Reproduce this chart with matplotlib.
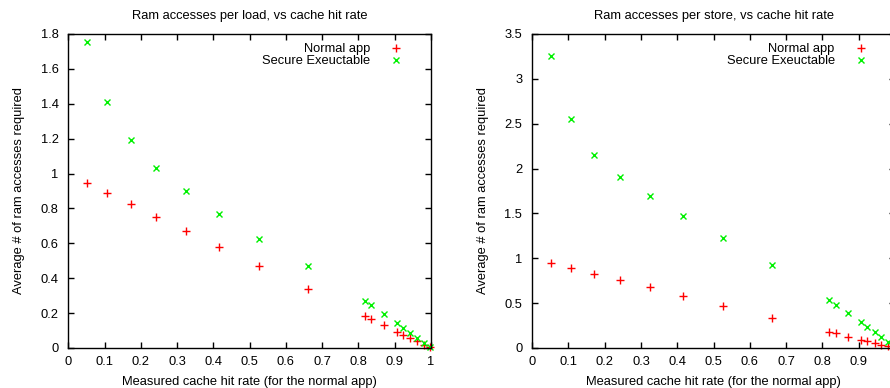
"""
plot.py — RAM accesses per load / per store against measured cache hit rate.

Two gnuplot-style scatter panels; the right panel runs past the figure edge
as in the reference picture.
"""

import matplotlib.pyplot as plt

# ---------------------------------------------------------------------------
# Data
# ---------------------------------------------------------------------------

hit_rate = [0.052, 0.108, 0.172, 0.243, 0.325, 0.417, 0.527, 0.660, 0.818,
            0.836, 0.870, 0.907, 0.924, 0.944, 0.961, 0.980, 0.998]

load_normal = [0.948, 0.891, 0.827, 0.753, 0.673, 0.581, 0.472, 0.338, 0.182,
               0.164, 0.130, 0.090, 0.075, 0.057, 0.038, 0.019, 0.004]
load_secure = [1.756, 1.412, 1.194, 1.032, 0.898, 0.766, 0.627, 0.468, 0.268,
               0.245, 0.197, 0.141, 0.115, 0.088, 0.059, 0.031, 0.006]

store_normal = [0.944, 0.888, 0.825, 0.754, 0.676, 0.580, 0.472, 0.338, 0.178,
                0.164, 0.126, 0.089, 0.074, 0.056, 0.037, 0.019, 0.004]
store_secure = [3.252, 2.549, 2.155, 1.903, 1.691, 1.472, 1.223, 0.922, 0.531,
                0.483, 0.390, 0.290, 0.234, 0.182, 0.123, 0.063, 0.010]

x_ticks = [0, 0.1, 0.2, 0.3, 0.4, 0.5, 0.6, 0.7, 0.8, 0.9, 1]
x_ticklabels = ["0", "0.1", "0.2", "0.3", "0.4", "0.5", "0.6", "0.7", "0.8", "0.9", "1"]
load_yticks = [0, 0.2, 0.4, 0.6, 0.8, 1, 1.2, 1.4, 1.6, 1.8]
load_yticklabels = ["0", "0.2", "0.4", "0.6", "0.8", "1", "1.2", "1.4", "1.6", "1.8"]
store_yticks = [0, 0.5, 1, 1.5, 2, 2.5, 3, 3.5]
store_yticklabels = ["0", "0.5", "1", "1.5", "2", "2.5", "3", "3.5"]

series_labels = ["Normal app", "Secure Exeuctable"]

# ---------------------------------------------------------------------------
# Style
# ---------------------------------------------------------------------------

plt.rcParams["font.family"] = ["Liberation Sans", "DejaVu Sans"]
FS = 9.3

C_NORMAL = "#ff0000"
C_SECURE = "#00f000"


def draw_panel(ax, normal, secure, yticks, yticklabels, ymax, title):
    ax.plot(hit_rate, normal, ls="none", marker="+", ms=5.8, mew=1.0,
            color=C_NORMAL, label=series_labels[0], clip_on=False)
    ax.plot(hit_rate, secure, ls="none", marker="x", ms=5.0, mew=1.0,
            color=C_SECURE, label=series_labels[1], clip_on=False)

    ax.set_xlim(0, 1)
    ax.set_ylim(0, ymax)
    ax.set_xticks(x_ticks)
    ax.set_xticklabels(x_ticklabels)
    ax.set_yticks(yticks)
    ax.set_yticklabels(yticklabels)
    ax.tick_params(direction="in", length=4, width=1, top=True, right=True,
                   labelsize=FS)
    ax.tick_params(axis="y", pad=7)
    ax.tick_params(axis="x", pad=6)
    for sp in ax.spines.values():
        sp.set_linewidth(1.0)

    ax.set_title(title, fontsize=FS, pad=11)
    ax.set_xlabel("Measured cache hit rate (for the normal app)", fontsize=FS,
                  labelpad=5.5)
    ax.set_ylabel("Average # of ram accesses required", fontsize=FS, labelpad=11)

    ax.legend(loc="upper right", frameon=False, markerfirst=False, fontsize=FS,
              handlelength=1.0, handletextpad=1.5, borderaxespad=0.2,
              labelspacing=0.0, bbox_to_anchor=(0.944, 0.995))


fig = plt.figure(figsize=(8.9, 3.88), dpi=100)
ax_load = fig.add_axes([0.0767, 0.1031, 0.4073, 0.8093])
ax_store = fig.add_axes([0.5978, 0.1031, 0.4079, 0.8093])

draw_panel(ax_load, load_normal, load_secure, load_yticks, load_yticklabels,
           1.8, "Ram accesses per load, vs cache hit rate")
draw_panel(ax_store, store_normal, store_secure, store_yticks, store_yticklabels,
           3.5, "Ram accesses per store, vs cache hit rate")

# the "1" under the right panel falls outside the picture in the reference
ax_store.get_xticklabels()[-1].set_visible(False)

fig.savefig("out.png", dpi=100)
plt.close(fig)
